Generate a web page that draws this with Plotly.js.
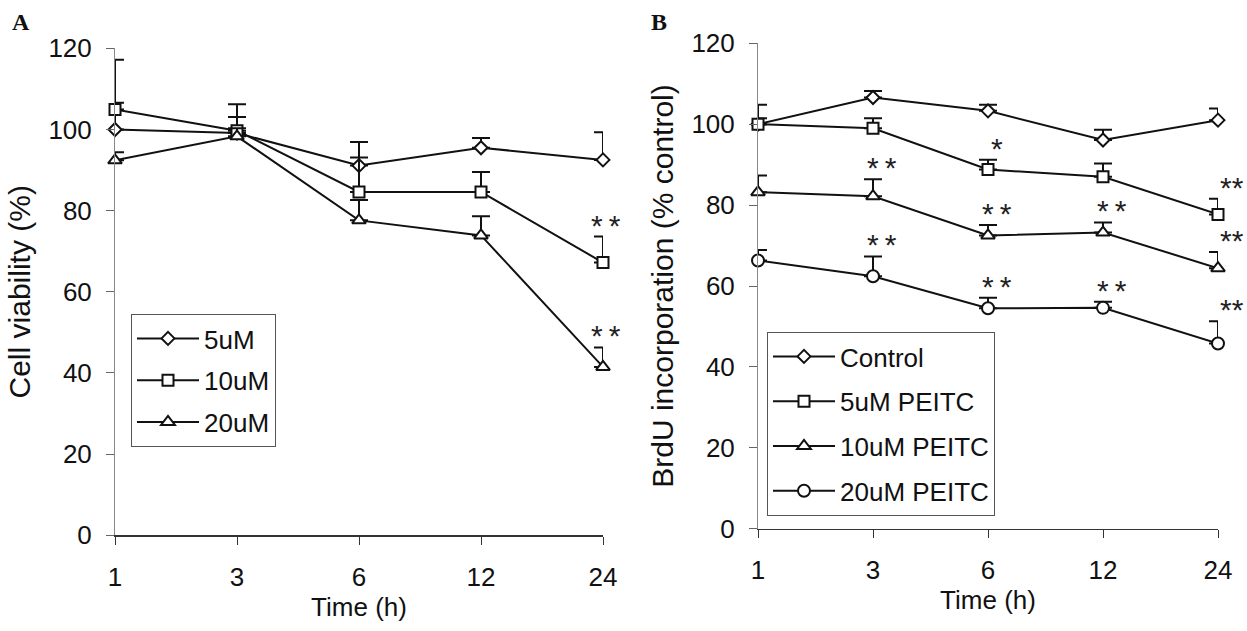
<!DOCTYPE html>
<html>
<head>
<meta charset="utf-8">
<script src="https://cdn.plot.ly/plotly-3.0.1.min.js"></script>
<style>html,body{margin:0;padding:0;background:#fff;}#chart{width:1247px;height:631px;}</style>
</head>
<body>
<div id="chart"></div>
<script>
// ---- data ----
var times = ['1', '3', '6', '12', '24'];

// Panel A: cell viability (%)
var namesA = ['5uM', '10uM', '20uM'];
var viab5 = [100, 99.1, 91.1, 95.5, 92.5];
var viab5Err = [6.6, 4.0, 5.8, 2.4, 6.8];
var viab10 = [104.9, 99.7, 84.6, 84.6, 67.2];
var viab10Err = [12.3, 6.5, 8.5, 4.9, 6.4];
var viab20 = [92.4, 98.3, 77.6, 73.9, 41.5];
var viab20Err = [2.0, 2.0, 5.0, 4.7, 4.8];
var sigA10 = ['', '', '', '', '**'];
var sigA20 = ['', '', '', '', '**'];

// Panel B: BrdU incorporation (% control)
var namesB = ['Control', '5uM PEITC', '10uM PEITC', '20uM PEITC'];
var brdu0 = [100, 106.6, 103.3, 96.1, 101.0];
var brdu0Err = [4.8, 1.6, 1.5, 2.5, 2.9];
var brdu5 = [100, 99.0, 88.8, 87.0, 77.7];
var brdu5Err = [1.5, 2.5, 2.4, 3.3, 3.9];
var brdu10 = [83.2, 82.2, 72.5, 73.2, 64.4];
var brdu10Err = [4.1, 4.2, 2.6, 2.5, 4.0];
var brdu20 = [66.3, 62.4, 54.5, 54.6, 45.8];
var brdu20Err = [2.6, 4.9, 2.6, 1.5, 5.5];
var sigB5 = ['', '', '*', '', '**'];
var sigB10 = ['', '**', '**', '**', '**'];
var sigB20 = ['', '**', '**', '**', '**'];

// ---- styles ----
var FONT = 'Liberation Sans, Arial, Helvetica, sans-serif';
var symbols = ['diamond', 'square', 'triangle-up', 'circle'];
var msizes = [10, 11, 12, 12];

function zeros(n) { var a = []; for (var i = 0; i < n; i++) a.push(0); return a; }

function mkTrace(name, y, err, idx, xa, ya, legend) {
  return {
    type: 'scatter', mode: 'lines+markers', name: name,
    x: times, y: y, xaxis: xa, yaxis: ya, legend: legend,
    legendgroup: legend + name,
    line: {color: '#111', width: 2},
    marker: {symbol: symbols[idx], size: msizes[idx], color: '#fff', line: {color: '#111', width: 2}},
    error_y: {type: 'data', symmetric: false, array: err, arrayminus: zeros(err.length),
              color: '#111', thickness: 2, width: 9},
    cliponaxis: false
  };
}

var data = [
  mkTrace(namesA[0], viab5, viab5Err, 0, 'x', 'y', 'legend'),
  mkTrace(namesA[1], viab10, viab10Err, 1, 'x', 'y', 'legend'),
  mkTrace(namesA[2], viab20, viab20Err, 2, 'x', 'y', 'legend'),
  mkTrace(namesB[0], brdu0, brdu0Err, 0, 'x2', 'y2', 'legend2'),
  mkTrace(namesB[1], brdu5, brdu5Err, 1, 'x2', 'y2', 'legend2'),
  mkTrace(namesB[2], brdu10, brdu10Err, 2, 'x2', 'y2', 'legend2'),
  mkTrace(namesB[3], brdu20, brdu20Err, 3, 'x2', 'y2', 'legend2')
];

var annotations = [];
function addSig(sig, y, err, xref, yref, lastRight, dx) {
  for (var i = 0; i < sig.length; i++) {
    if (!sig[i]) continue;
    var edge = lastRight && i === sig.length - 1;
    annotations.push({
      x: edge ? 1 : i, y: y[i] + err[i], xref: edge ? 'paper' : xref, yref: yref,
      text: edge ? sig[i] : sig[i].split('').join('\u2009'), showarrow: false,
      xanchor: edge ? 'right' : 'center', yanchor: 'bottom',
      xshift: edge ? -1 : dx, yshift: -7,
      font: {family: FONT, size: 30, color: '#222'}
    });
  }
}
addSig(sigA10, viab10, viab10Err, 'x', 'y', false, 3);
addSig(sigA20, viab20, viab20Err, 'x', 'y', false, 3);
addSig(sigB5, brdu5, brdu5Err, 'x2', 'y2', true, 9);
addSig(sigB10, brdu10, brdu10Err, 'x2', 'y2', true, 9);
addSig(sigB20, brdu20, brdu20Err, 'x2', 'y2', true, 9);

annotations.push({xref: 'paper', yref: 'paper', x: 21 / 1247, y: 1 - 22 / 631, text: '<b>A</b>',
  showarrow: false, xanchor: 'center', yanchor: 'middle',
  font: {family: 'Liberation Serif, Times New Roman, serif', size: 24, color: '#111'}});
annotations.push({xref: 'paper', yref: 'paper', x: 659 / 1247, y: 1 - 22 / 631, text: '<b>B</b>',
  showarrow: false, xanchor: 'center', yanchor: 'middle',
  font: {family: 'Liberation Serif, Times New Roman, serif', size: 24, color: '#111'}});

function xAxis(domain, anchor) {
  return {
    domain: domain, anchor: anchor, type: 'category', range: [0, 4],
    showline: true, linecolor: '#333', linewidth: 1.5,
    ticks: 'outside', ticklen: 8, tickcolor: '#333', tickwidth: 1,
    showgrid: false, zeroline: false, ticklabelstandoff: 10,
    tickfont: {family: FONT, size: 26, color: '#111'},
    title: {text: 'Time (h)', font: {family: FONT, size: 26, color: '#111'}, standoff: 6}
  };
}
function yAxis(domain, anchor, title) {
  return {
    domain: domain, anchor: anchor, range: [0, 120], dtick: 20,
    showline: true, linecolor: '#888', linewidth: 1,
    ticks: 'outside', ticklen: 8, tickcolor: '#666', tickwidth: 1,
    showgrid: false, zeroline: false, ticklabelstandoff: 9,
    tickfont: {family: FONT, size: 26, color: '#111'},
    title: {text: title, font: {family: FONT, size: 30, color: '#111'}, standoff: 8}
  };
}

var layout = {
  width: 1247, height: 631,
  margin: {l: 0, r: 0, t: 0, b: 0},
  paper_bgcolor: '#fff', plot_bgcolor: 'rgba(0,0,0,0)',
  showlegend: true,
  xaxis: xAxis([115 / 1247, 603 / 1247], 'y'),
  yaxis: yAxis([(631 - 535.3) / 631, (631 - 48.3) / 631], 'x', 'Cell viability (%)'),
  xaxis2: xAxis([758 / 1247, 1218 / 1247], 'y2'),
  yaxis2: yAxis([(631 - 528.7) / 631, (631 - 43.3) / 631], 'x2', 'BrdU incorporation (% control)'),
  legend: {
    x: 131 / 1247, y: 1 - 314 / 631, xanchor: 'left', yanchor: 'top',
    bordercolor: '#555', borderwidth: 1, bgcolor: '#fff',
    font: {family: FONT, size: 26, color: '#111'},
    traceorder: 'grouped', tracegroupgap: 5, itemwidth: 62
  },
  legend2: {
    x: 767 / 1247, y: 1 - 332 / 631, xanchor: 'left', yanchor: 'top',
    bordercolor: '#555', borderwidth: 1, bgcolor: '#fff',
    font: {family: FONT, size: 26, color: '#111'},
    traceorder: 'grouped', tracegroupgap: 8, itemwidth: 62
  },
  annotations: annotations
};

Plotly.newPlot('chart', data, layout, {displayModeBar: false, staticPlot: true});
</script>
</body>
</html>
